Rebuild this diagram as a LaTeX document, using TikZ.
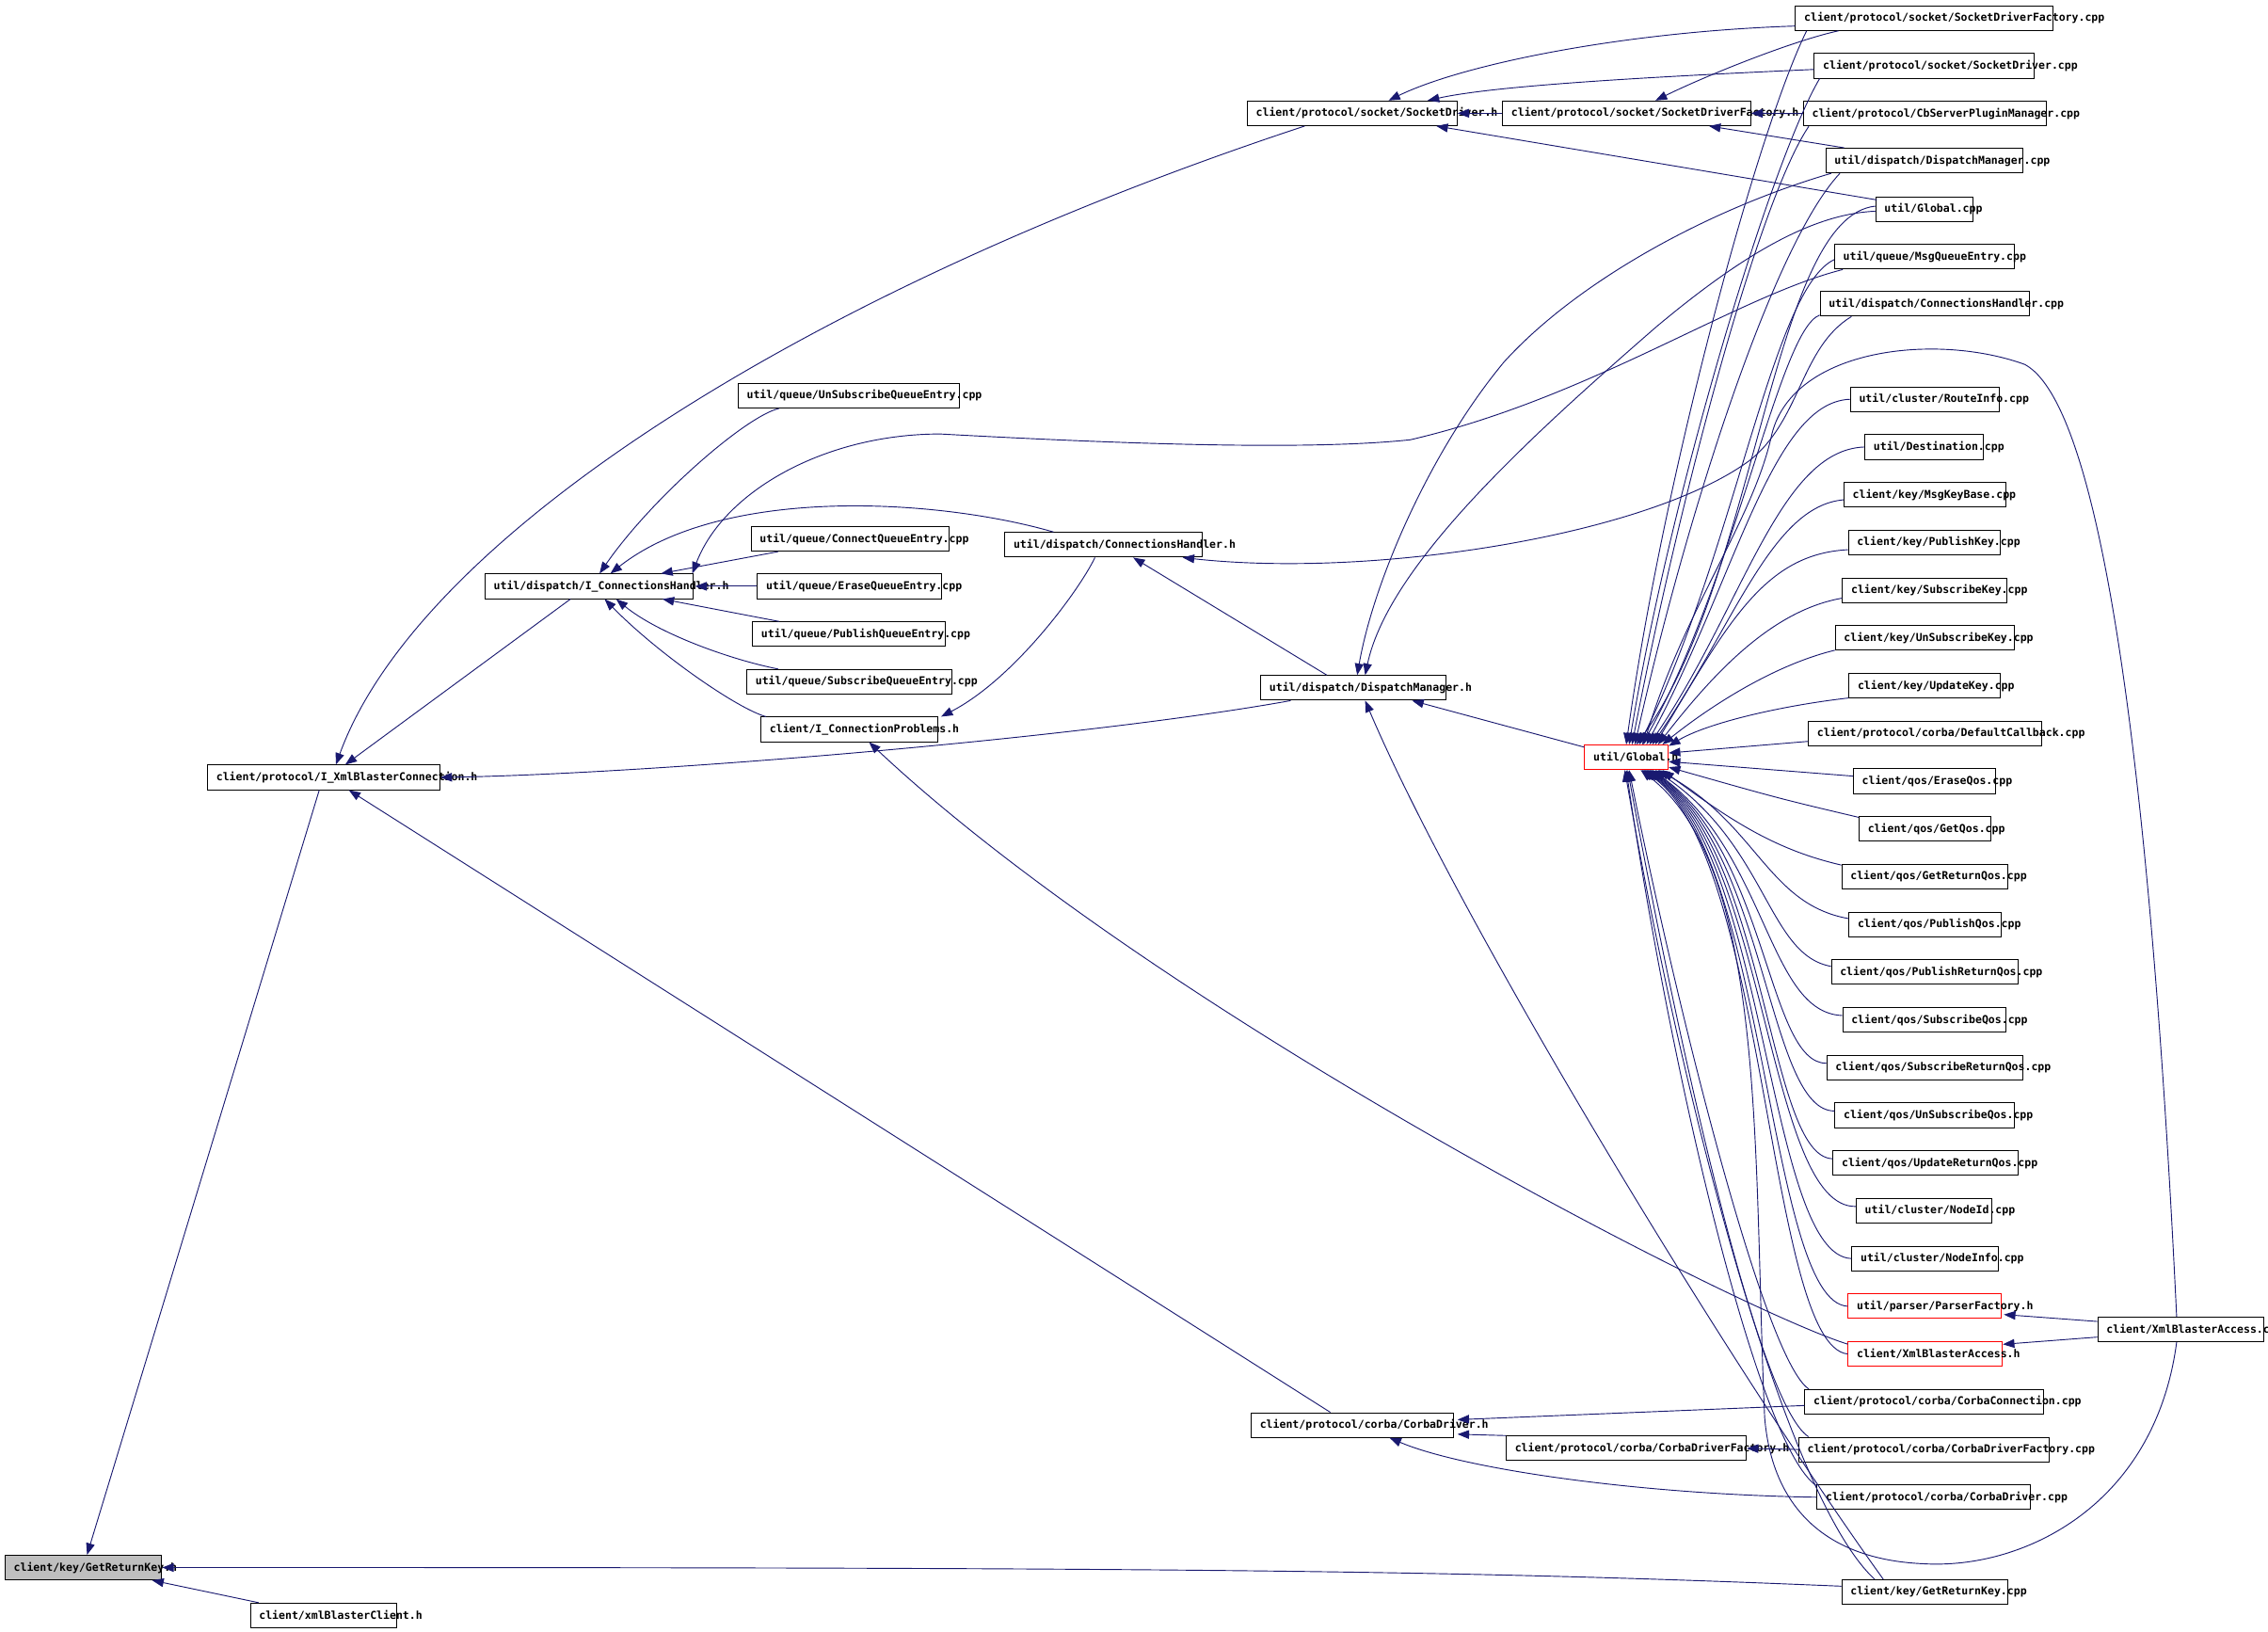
\documentclass[tikz,border=0pt]{standalone}
\usepackage{fontspec}
\newfontfamily\dfont{DejaVu Sans Mono}
\usetikzlibrary{arrows.meta,calc}
\definecolor{edgec}{HTML}{191970}
\definecolor{gfill}{HTML}{BFBFBF}
\tikzset{
  box/.style={draw=black, line width=0.65pt, rectangle, minimum height=17pt, inner xsep=0pt, inner ysep=0pt, font=\dfont\bfseries\fontsize{7.5}{8}\selectfont},
  redbox/.style={draw=red},
  cur/.style={fill=gfill},
  e/.style={draw=edgec, line width=0.6pt, -{Triangle[length=8pt,width=6pt]}},
}
\newcommand\nd[6][]{\node[box,#1,minimum width=#5pt,anchor=west] (#2) at (#3,#4) {\makebox[#5pt][l]{\hspace{6pt}#6}};}
\begin{document}
\begin{tikzpicture}[x=1pt,y=-1pt]
\useasboundingbox (0,0) rectangle (1568,1128);
\fill[white] (0,0) rectangle (1568,1128);
% ---------------- right column
\nd{SDFcpp}{1241}{12.5}{178}{client/protocol/socket/SocketDriverFactory.cpp}
\nd{SDcpp}{1254}{45.5}{152}{client/protocol/socket/SocketDriver.cpp}
\nd{CbSPM}{1246.5}{78.5}{168}{client/protocol/CbServerPluginManager.cpp}
\nd{DMcpp}{1262}{111}{136}{util/dispatch/DispatchManager.cpp}
\nd{Gcpp}{1296.5}{144.5}{67}{util/Global.cpp}
\nd{MQE}{1268}{177.5}{124}{util/queue/MsgQueueEntry.cpp}
\nd{CHcpp}{1258}{210}{145}{util/dispatch/ConnectionsHandler.cpp}
\nd{RI}{1279}{276}{103}{util/cluster/RouteInfo.cpp}
\nd{Dest}{1289}{309}{82}{util/Destination.cpp}
\nd{MKB}{1274.5}{342}{112}{client/key/MsgKeyBase.cpp}
\nd{PK}{1277.5}{375}{105}{client/key/PublishKey.cpp}
\nd{SK}{1273.5}{408}{113.5}{client/key/SubscribeKey.cpp}
\nd{USK}{1268.5}{441}{124}{client/key/UnSubscribeKey.cpp}
\nd{UK}{1278}{474}{104.5}{client/key/UpdateKey.cpp}
\nd{DCB}{1250}{507}{161}{client/protocol/corba/DefaultCallback.cpp}
\nd{EQ}{1281}{540}{98.5}{client/qos/EraseQos.cpp}
\nd{GQ}{1285}{573}{91}{client/qos/GetQos.cpp}
\nd{GRQ}{1273}{606}{114.5}{client/qos/GetReturnQos.cpp}
\nd{PQ}{1278}{639}{105}{client/qos/PublishQos.cpp}
\nd{PRQ}{1265.8}{672}{129}{client/qos/PublishReturnQos.cpp}
\nd{SQ}{1273.6}{705}{113}{client/qos/SubscribeQos.cpp}
\nd{SRQ}{1262.6}{738}{135.7}{client/qos/SubscribeReturnQos.cpp}
\nd{UQ}{1268.3}{771}{123.7}{client/qos/UnSubscribeQos.cpp}
\nd{URQ}{1267}{804}{127.6}{client/qos/UpdateReturnQos.cpp}
\nd{NId}{1283}{837}{94}{util/cluster/NodeId.cpp}
\nd{NI}{1280}{870}{101.5}{util/cluster/NodeInfo.cpp}
\nd[redbox]{PF}{1277.4}{903}{105.5}{util/parser/ParserFactory.h}
\nd[redbox]{XBAh}{1277.4}{936}{106.6}{client/XmlBlasterAccess.h}
\nd{CC}{1247.5}{969}{165}{client/protocol/corba/CorbaConnection.cpp}
\nd{CDFcpp}{1243.3}{1002}{173}{client/protocol/corba/CorbaDriverFactory.cpp}
\nd{CDcpp}{1256}{1035}{147.6}{client/protocol/corba/CorbaDriver.cpp}
\nd{GRKcpp}{1273}{1100.5}{115}{client/key/GetReturnKey.cpp}
\nd{XBAcpp}{1450}{919}{115}{client/XmlBlasterAccess.cpp}
% ---------------- middle
\nd{SDh}{862}{78.3}{145}{client/protocol/socket/SocketDriver.h}
\nd{SDFh}{1038.5}{78.3}{171.5}{client/protocol/socket/SocketDriverFactory.h}
\nd{USQ}{510}{273.5}{153}{util/queue/UnSubscribeQueueEntry.cpp}
\nd{CQE}{519}{372.5}{136.5}{util/queue/ConnectQueueEntry.cpp}
\nd{EQE}{523.3}{405.3}{127}{util/queue/EraseQueueEntry.cpp}
\nd{PQE}{520}{438.4}{133.2}{util/queue/PublishQueueEntry.cpp}
\nd{SQE}{516}{471.3}{142}{util/queue/SubscribeQueueEntry.cpp}
\nd{ICP}{525.8}{504.2}{122.2}{client/I\_ConnectionProblems.h}
\nd{ICH}{335}{405.3}{144}{util/dispatch/I\_ConnectionsHandler.h}
\nd{CHh}{694.4}{376.6}{136.6}{util/dispatch/ConnectionsHandler.h}
\nd{DMh}{871.3}{475.5}{127.8}{util/dispatch/DispatchManager.h}
\nd[redbox]{GH}{1095.3}{523.5}{57.7}{util/Global.h}
\nd{CDh}{864.7}{985.1}{139.6}{client/protocol/corba/CorbaDriver.h}
\nd{CDFh}{1041}{1001.2}{166}{client/protocol/corba/CorbaDriverFactory.h}
\nd{IXC}{143.2}{537.4}{160.6}{client/protocol/I\_XmlBlasterConnection.h}
\nd[cur]{GRKh}{3.2}{1083.6}{108.3}{client/key/GetReturnKey.h}
\nd{XBC}{172.8}{1116.7}{101}{client/xmlBlasterClient.h}
% ---------------- edges: left part
\draw[e] ($(XBC.north west)+(6,0)$) -- ($(GRKh.south east)+(-7,0)$);
\draw[e] ($(IXC.south west)+(77.5,0)$) -- ($(GRKh.north west)+(57,0)$);
\draw[e] ($(GRKcpp.west)+(0,-4)$) .. controls (1000,1085) and (800,1083.5) .. (GRKh.east);
\draw[e] ($(SDh.south west)+(40,0)$) .. controls (560,200) and (290,370) .. ($(IXC.north west)+(89,0)$);
\draw[e] ($(ICH.south west)+(59.4,0)$) -- ($(IXC.north west)+(95.5,0)$);
\draw[e] ($(DMh.south west)+(21,0)$) .. controls (750,510) and (450,535) .. (IXC.east);
\draw[e] ($(CDh.north west)+(55,0)$) -- ($(IXC.south west)+(98,0)$);
% socket
\draw[e] (SDFh.west) -- (SDh.east);
\draw[e] ($(SDFcpp.west)+(0,5.5)$) .. controls (1120,22) and (1010,45) .. ($(SDh.north west)+(98,0)$);
\draw[e] ($(SDcpp.west)+(0,2.5)$) .. controls (1120,54) and (1030,60) .. ($(SDh.north west)+(125,0)$);
\draw[e] ($(Gcpp.north west)+(1,2.5)$) -- ($(SDh.south west)+(131,0)$);
\draw[e] ($(SDFcpp.south west)+(30,0)$) .. controls (1240,28) and (1180,52) .. ($(SDFh.north west)+(106,0)$);
\draw[e] (CbSPM.west) -- (SDFh.east);
\draw[e] ($(DMcpp.north west)+(13,0)$) -- ($(SDFh.south west)+(143,0)$);
% I_ConnectionsHandler
\draw[e] ($(USQ.south west)+(28.6,0)$) .. controls (515,288) and (450,345) .. ($(ICH.north west)+(79.5,0)$);
\draw[e] ($(CQE.south west)+(19,0)$) -- ($(ICH.north west)+(122,0)$);
\draw[e] (EQE.west) -- ($(ICH.east)+(1,0)$);
\draw[e] ($(PQE.north west)+(18.6,0)$) -- ($(ICH.south west)+(123,0)$);
\draw[e] ($(SQE.north west)+(22,0)$) .. controls (505,456) and (455,438) .. ($(ICH.south west)+(91,0)$);
\draw[e] ($(ICP.north west)+(3.7,0)$) .. controls (510,490) and (455,452) .. ($(ICH.south west)+(83,0)$);
\draw[e] ($(CHh.north west)+(34,0)$) .. controls (650,345) and (500,335) .. ($(ICH.north west)+(87,0)$);
\draw[e] ($(MQE.south west)+(6,0)$) .. controls (1200,205) and (1100,275) .. (975,304) .. controls (900,312) and (760,306) .. (650,300) .. controls (570,300) and (500,340) .. ($(ICH.north east)+(-1,0)$);
% ConnectionsHandler.h, I_ConnectionProblems.h
\draw[e] ($(CHcpp.south west)+(22,0)$) .. controls (1245,240) and (1245,290) .. (1210,318) .. controls (1140,370) and (950,400) .. ($(CHh.south east)+(-14,0)$);
\draw[e] ($(DMh.north west)+(46,0)$) -- ($(CHh.south west)+(89,0)$);
\draw[e] ($(CHh.south west)+(62.6,0)$) .. controls (745,410) and (700,470) .. ($(ICP.north east)+(2,0)$);
\draw[e] ($(XBAh.north west)+(0,2)$) .. controls (1200,905) and (800,700) .. ($(ICP.south west)+(75,0)$);
% DispatchManager.h
\draw[e] ($(DMcpp.south west)+(4,0)$) .. controls (1180,145) and (1090,195) .. (1040,250) .. controls (990,310) and (950,400) .. ($(DMh.north west)+(67,0)$);
\draw[e] ($(Gcpp.west)+(0,1.5)$) .. controls (1250,148) and (1200,180) .. (1145,226) .. controls (1060,300) and (960,390) .. ($(DMh.north west)+(72.5,0)$);
\draw[e] ($(GH.west)+(0,-7)$) -- ($(DMh.south east)+(-23.5,0)$);
\draw[e] ($(GRKcpp.north west)+(29,0)$) .. controls (1200,950) and (1010,640) .. ($(DMh.south west)+(72.5,0)$);
% corba
\draw[e] ($(CC.west)+(0,2.6)$) -- ($(CDh.east)+(2.7,-3.7)$);
\draw[e] (CDFh.north west) -- ($(CDh.south east)+(2.7,-2.5)$);
\draw[e] (CDFcpp.west) -- (CDFh.east);
\draw[e] (CDcpp.west) .. controls (1130,1033) and (1010,1015) .. ($(CDh.south west)+(96,0)$);
% XmlBlasterAccess.cpp
\draw[e] ($(XBAcpp.west)+(0,-5.5)$) -- ($(PF.east)+(1.8,5.7)$);
\draw[e] ($(XBAcpp.west)+(0,5.3)$) -- ($(XBAh.east)+(0,-6.7)$);
% ---------------- util/Global.h : from above
\draw[e] ($(SDFcpp.south west)+(8,0)$) .. controls (1215,90) and (1150,330) .. ($(GH.north west)+(29,0)$);
\draw[e] ($(SDcpp.south west)+(4,0)$) .. controls (1225,110) and (1155,340) .. ($(GH.north west)+(31,0)$);
\draw[e] ($(CbSPM.south west)+(4,0)$) .. controls (1215,140) and (1160,350) .. ($(GH.north west)+(33,0)$);
\draw[e] ($(DMcpp.south west)+(10,0)$) .. controls (1225,170) and (1165,360) .. ($(GH.north west)+(35,0)$);
\draw[e] ($(Gcpp.west)+(0,-2)$) .. controls (1225,150) and (1215,400) .. ($(GH.north west)+(36,0)$);
\draw[e] ($(MQE.west)+(0,2)$) .. controls (1225,200) and (1200,380) .. ($(GH.north west)+(38,0)$);
\draw[e] ($(CHcpp.south west)+(0,-1)$) .. controls (1230,228) and (1200,400) .. ($(GH.north west)+(40,0)$);
\draw[e] ($(XBAcpp.north)+(-3,0)$) .. controls (1490,600) and (1460,285) .. (1400,252) .. controls (1340,230) and (1240,240) .. (1225,300) .. controls (1212,360) and (1165,420) .. ($(GH.north west)+(41,0)$);
\draw[e] (RI.west) .. controls (1225,278) and (1200,400) .. ($(GH.north west)+(43,0)$);
\draw[e] (Dest.west) .. controls (1230,311) and (1205,420) .. ($(GH.north west)+(45,0)$);
\draw[e] ($(MKB.west)+(0,3.5)$) .. controls (1225,350) and (1200,430) .. ($(GH.north west)+(47,0)$);
\draw[e] ($(PK.west)+(0,5)$) .. controls (1220,383) and (1195,430) .. ($(GH.north west)+(49,0)$);
\draw[e] ($(SK.west)+(0,5.5)$) .. controls (1225,422) and (1185,465) .. ($(GH.north west)+(51,0)$);
\draw[e] ($(USK.west)+(0,8.5)$) .. controls (1225,460) and (1180,490) .. ($(GH.north west)+(54,0)$);
\draw[e] ($(UK.west)+(0,8.5)$) .. controls (1230,488) and (1180,500) .. ($(GH.north east)+(0,1)$);
% right side
\draw[e] ($(DCB.west)+(0,5.5)$) -- ($(GH.east)+(0,-3)$);
\draw[e] ($(EQ.west)+(0,-3.5)$) -- ($(GH.east)+(0,3)$);
\draw[e] ($(GQ.west)+(0,-8)$) .. controls (1230,552) .. ($(GH.south east)+(0,-2)$);
% from below
\draw[e] ($(GRQ.west)+(0,-8)$) .. controls (1230,588) and (1200,570) .. ($(GH.south west)+(54,0)$);
\draw[e] ($(PQ.west)+(0,-4)$) .. controls (1222,625) and (1215,570) .. ($(GH.south west)+(51,0)$);
\draw[e] ($(PRQ.west)+(0,-4)$) .. controls (1222,660) and (1222,585) .. ($(GH.south west)+(49,0)$);
\draw[e] ($(SQ.west)+(0,-3)$) .. controls (1222,700) and (1222,590) .. ($(GH.south west)+(47,0)$);
\draw[e] ($(SRQ.west)+(0,-3)$) .. controls (1222,735) and (1222,590) .. ($(GH.south west)+(46,0)$);
\draw[e] ($(UQ.west)+(0,-3)$) .. controls (1222,768) and (1222,590) .. ($(GH.south west)+(45,0)$);
\draw[e] ($(URQ.west)+(0,-3)$) .. controls (1222,800) and (1222,590) .. ($(GH.south west)+(44,0)$);
\draw[e] ($(NId.west)+(0,-3)$) .. controls (1222,835) and (1222,590) .. ($(GH.south west)+(43,0)$);
\draw[e] (NI.west) .. controls (1222,868) and (1222,590) .. ($(GH.south west)+(42,0)$);
\draw[e] (PF.west) .. controls (1222,900) and (1222,590) .. ($(GH.south west)+(41,0)$);
\draw[e] (XBAh.west) .. controls (1222,930) and (1222,590) .. ($(GH.south west)+(40,0)$);
\draw[e] ($(XBAcpp.south)+(-3,0)$) .. controls (1490,1040) and (1400,1085) .. (1330,1081) .. controls (1260,1078) and (1225,1040) .. (1220,980) .. controls (1212,800) and (1222,600) .. ($(GH.south west)+(39,0)$);
\draw[e] ($(CC.north west)+(3,0)$) .. controls (1220,940) and (1160,700) .. ($(GH.south west)+(31,0)$);
\draw[e] ($(CDFcpp.north west)+(7,0)$) .. controls (1215,970) and (1160,720) .. ($(GH.south west)+(30,0)$);
\draw[e] ($(CDcpp.north west)+(0,1)$) .. controls (1215,1000) and (1155,740) .. ($(GH.south west)+(29,0)$);
\draw[e] ($(GRKcpp.north west)+(23,0)$) .. controls (1240,1040) and (1170,800) .. ($(GH.south west)+(28,0)$);
\end{tikzpicture}
\end{document}
